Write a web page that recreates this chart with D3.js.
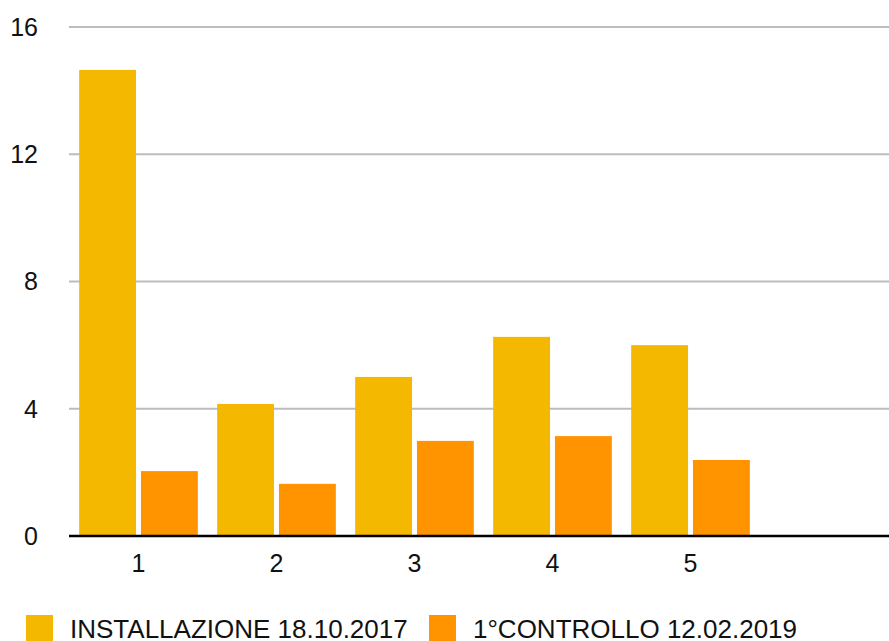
<!DOCTYPE html>
<html>
<head>
<meta charset="utf-8">
<script src="https://cdn.jsdelivr.net/npm/d3@7"></script>
<style>
  body { margin: 0; background: #fff; }
  text { font-family: "Liberation Sans", Arial, Helvetica, sans-serif; fill: #111; }
</style>
</head>
<body>
<svg id="chart" width="889" height="641"></svg>
<script>
const categories = ["1", "2", "3", "4", "5", ""]
const seriesNames = ["INSTALLAZIONE 18.10.2017", "1°CONTROLLO 12.02.2019"]
const installazione = [14.65, 4.15, 5.0, 6.26, 6.0, null]
const controllo = [2.04, 1.64, 2.99, 3.14, 2.39, null]
const yTicks = [0, 4, 8, 12, 16]
const colors = ["#f5b800", "#ff9400"]

const svg = d3.select("#chart")
const W = 889

const x0 = d3.scaleBand()
  .domain(categories)
  .range([69.5, 69.5 + 138 * categories.length])
  .paddingInner(0.14)
  .paddingOuter(0.07)

const x1 = d3.scaleBand()
  .domain(seriesNames)
  .range([0, x0.bandwidth()])
  .paddingInner(0.08)

const y = d3.scaleLinear().domain([0, 16]).range([536, 27])

// gridlines
svg.append("g")
  .selectAll("line")
  .data(yTicks.filter((t) => t > 0))
  .join("line")
  .attr("x1", 69)
  .attr("x2", W)
  .attr("y1", (d) => y(d))
  .attr("y2", (d) => y(d))
  .attr("stroke", "#bdbdbd")
  .attr("stroke-width", 2)

// y tick labels
svg.append("g")
  .selectAll("text")
  .data(yTicks)
  .join("text")
  .attr("x", 38)
  .attr("y", (d) => y(d))
  .attr("dy", "0.35em")
  .attr("text-anchor", "end")
  .style("font-size", "25px")
  .text((d) => d)

// bars
const rows = categories.map((c, i) => ({
  cat: c,
  values: [installazione[i], controllo[i]],
}))

const groups = svg.append("g")
  .selectAll("g")
  .data(rows)
  .join("g")
  .attr("transform", (d) => `translate(${x0(d.cat)},0)`)

groups.selectAll("rect")
  .data((d) => d.values.map((v, j) => ({ name: seriesNames[j], v, j })).filter((e) => e.v != null))
  .join("rect")
  .attr("x", (d) => x1(d.name))
  .attr("width", x1.bandwidth())
  .attr("y", (d) => y(d.v))
  .attr("height", (d) => y(0) - y(d.v))
  .attr("fill", (d) => colors[d.j])

// baseline
svg.append("line")
  .attr("x1", 69)
  .attr("x2", W)
  .attr("y1", y(0))
  .attr("y2", y(0))
  .attr("stroke", "#000")
  .attr("stroke-width", 2.5)

// x labels
svg.append("g")
  .selectAll("text")
  .data(categories)
  .join("text")
  .attr("x", (d) => x0(d) + x0.bandwidth() / 2)
  .attr("y", 572)
  .attr("text-anchor", "middle")
  .style("font-size", "25px")
  .text((d) => d)

// legend
const legendX = [26, 429]
const legend = svg.append("g")
  .selectAll("g")
  .data(seriesNames)
  .join("g")
  .attr("transform", (d, i) => `translate(${legendX[i]},615)`)

legend.append("rect")
  .attr("width", 27)
  .attr("height", 27)
  .attr("fill", (d, i) => colors[i])

legend.append("text")
  .attr("x", 44)
  .attr("y", 23)
  .style("font-size", "26px")
  .text((d) => d)
</script>
</body>
</html>
